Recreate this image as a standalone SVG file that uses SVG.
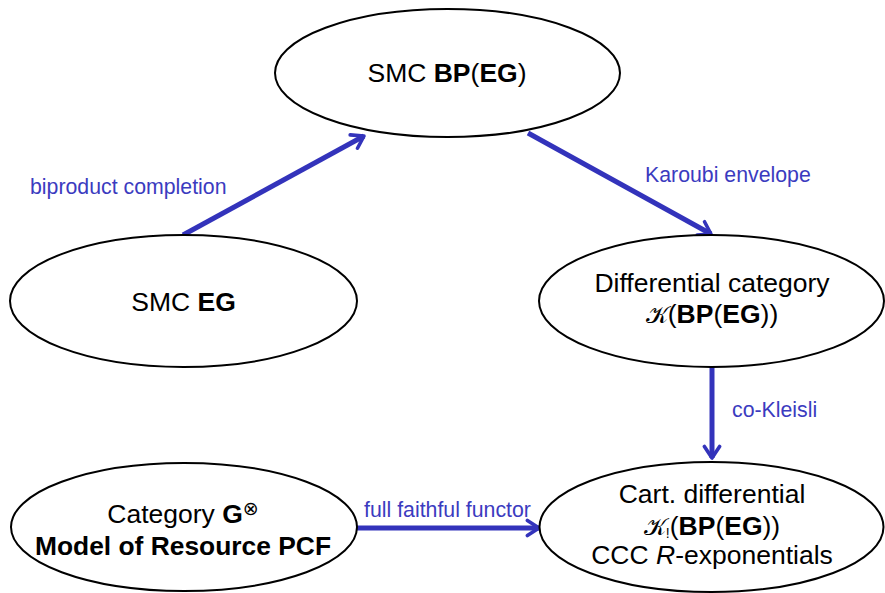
<svg xmlns="http://www.w3.org/2000/svg" width="885" height="593" viewBox="0 0 885 593">
  <style>
    .node { fill: #ffffff; stroke: #000000; stroke-width: 2; }
    .txt { font-family: "Liberation Sans", Arial, sans-serif; font-size: 26.5px; fill: #000000; text-anchor: middle; }
    .b { font-weight: bold; }
    .cal { font-family: "DejaVu Sans", "Noto Sans", serif; font-size: 24px; }
    .sub { font-size: 14px; }
    .edge { fill: none; stroke: #3333bb; stroke-width: 5; marker-end: url(#arrow); }
    .lbl { font-family: "Liberation Sans", Arial, sans-serif; font-size: 21.3px; fill: #3b3bbf; }
  </style>
  <defs>
    <marker id="arrow" viewBox="0 0 10 10" refX="8" refY="5" markerWidth="4" markerHeight="4" orient="auto" markerUnits="strokeWidth">
      <path d="M2.2,1.2 L8,5 L2.2,8.8" fill="none" stroke="#3333bb" stroke-width="1.8" stroke-linecap="round" stroke-linejoin="round"/>
    </marker>
  </defs>

  <g id="connectors">
    <line class="edge" x1="183" y1="235" x2="364" y2="136"/>
    <line class="edge" x1="528" y1="133" x2="711" y2="234"/>
    <line class="edge" x1="712" y1="367" x2="712" y2="458"/>
    <line class="edge" x1="357" y1="528" x2="539" y2="528"/>
    <text class="lbl" x="30" y="194">biproduct completion</text>
    <text class="lbl" x="645" y="182">Karoubi envelope</text>
    <text class="lbl" x="732" y="417">co-Kleisli</text>
    <text class="lbl" x="364" y="517">full faithful functor</text>
  </g>

  <g id="node-bp">
    <ellipse class="node" cx="447.5" cy="73" rx="172.5" ry="64"/>
    <text class="txt" x="447" y="82">SMC <tspan class="b">BP</tspan>(<tspan class="b">EG</tspan>)</text>
  </g>

  <g id="node-eg">
    <ellipse class="node" cx="183.5" cy="301" rx="173.5" ry="66"/>
    <text class="txt" x="183.5" y="311">SMC <tspan class="b">EG</tspan></text>
  </g>

  <g id="node-diff">
    <ellipse class="node" cx="711.5" cy="301" rx="172.5" ry="66"/>
    <text class="txt" x="712" y="292">Differential category</text>
    <text class="txt" x="712" y="323"><tspan class="cal">𝒦</tspan>(<tspan class="b">BP</tspan>(<tspan class="b">EG</tspan>))</text>
  </g>

  <g id="node-cart">
    <ellipse class="node" cx="711.5" cy="527" rx="172" ry="65"/>
    <text class="txt" x="712" y="503">Cart. differential</text>
    <text class="txt" x="712" y="535"><tspan class="cal">𝒦</tspan><tspan class="sub" dy="3">!</tspan><tspan dy="-3">(</tspan><tspan class="b">BP</tspan>(<tspan class="b">EG</tspan>))</text>
    <text class="txt" x="712" y="564">CCC <tspan font-style="italic">R</tspan>-exponentials</text>
  </g>

  <g id="node-g">
    <ellipse class="node" cx="184" cy="527" rx="173" ry="64"/>
    <text class="txt" x="183" y="523">Category <tspan class="b">G</tspan><tspan font-family="'DejaVu Sans', sans-serif" font-size="19" font-weight="normal" dy="-8">⊗</tspan></text>
    <text class="txt b" x="183" y="555" textLength="296" lengthAdjust="spacingAndGlyphs">Model of Resource PCF</text>
  </g>
</svg>
